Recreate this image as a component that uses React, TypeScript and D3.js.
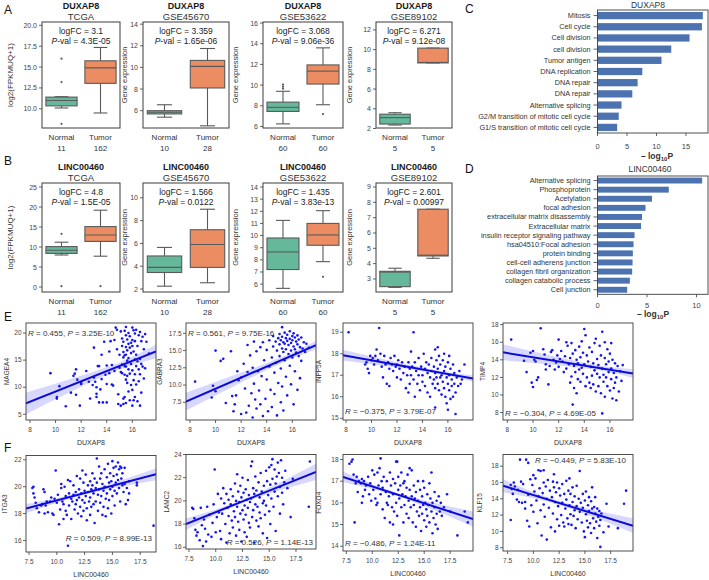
import React from "react";
import * as d3 from "d3";

const FONT = "'Liberation Sans', Arial, Helvetica, sans-serif";

// ---------------- Box plots (A, B) ----------------
const boxGroups = ["Normal", "Tumor"];
const boxGenes = ["DUXAP8", "LINC00460"];
const boxDatasets = ["TCGA", "GSE45670", "GSE53622", "GSE89102"];
const boxYLabels = ["log2(FPKMUQ+1)", "Gene expression", "Gene expression", "Gene expression"];
const sampleCounts = [[11, 162], [10, 28], [60, 60], [5, 5]];
const logFCA = ["3.1", "3.359", "3.068", "6.271"];
const pvalA = ["4.3E-05", "1.65e-06", "9.06e-36", "9.12e-08"];
const logFCB = ["4.8", "1.566", "1.435", "2.601"];
const pvalB = ["1.5E-05", "0.0122", "3.83e-13", "0.00997"];
// [low whisker, Q1, median, Q3, high whisker] for Normal, Tumor
const statsA = [
  [[10.1, 10.35, 11.0, 11.4, 11.45], [9.5, 13.05, 14.9, 15.75, 17.35]],
  [[5.4, 5.7, 5.85, 6.0, 6.55], [4.6, 8.1, 10.1, 10.65, 11.75]],
  [[6.25, 7.45, 7.85, 8.35, 9.4], [8.1, 10.1, 11.35, 11.95, 13.6]],
  [[2.35, 2.45, 3.1, 3.45, 3.6], [8.65, 8.65, 8.7, 10.15, 10.15]],
];
const outliersA = [
  [[16.0, 13.2, 8.2], []],
  [[], []],
  [[9.65, 9.85, 10.05], [7.2]],
  [[], []],
];
const statsB = [
  [[8.0, 8.4, 9.2, 10.1, 11.2], [7.7, 11.4, 13.0, 15.1, 19.2]],
  [[2.25, 3.45, 3.9, 4.9, 5.65], [2.55, 3.9, 5.9, 7.2, 9.0]],
  [[5.65, 7.2, 8.65, 9.8, 11.25], [7.85, 9.2, 10.05, 11.0, 12.05]],
  [[2.45, 2.5, 3.45, 3.5, 3.7], [4.35, 4.5, 4.55, 7.55, 7.55]],
];
const outliersB = [
  [[13.3, 0.2], [0.2]],
  [[], []],
  [[], [6.6]],
  [[], []],
];
const yDomainA = [[7.7, 20.4], [4.4, 14.2], [5.85, 16.1], [2.05, 12.8]];
const yTicksA = [[10, 12.5, 15, 17.5, 20], [6, 8, 10, 12, 14], [6, 8, 10, 12, 14, 16], [2, 4, 6, 8, 10, 12]];
const yDomainB = [[-1.25, 26], [1.74, 11.3], [5.35, 14.33], [2.15, 9.26]];
const yTicksB = [[0, 5, 10, 15, 20, 25], [2, 4, 6, 8, 10], [6, 7, 8, 9, 10, 11, 12, 13, 14], [3, 4, 5, 6, 7, 8, 9]];

// ---------------- Bar charts (C, D) ----------------
const termsC = ["Mitosis", "Cell cycle", "Cell division", "cell division", "Tumor antigen", "DNA replication", "DNA repair", "DNA repair", "Alternative splicing", "G2/M transition of mitotic cell cycle", "G1/S transition of mitotic cell cycle"];
const valuesC = [17.85, 17.7, 15.6, 12.5, 10.85, 7.6, 6.8, 5.9, 4.07, 3.6, 3.33];
const ticksC = [0, 5, 10, 15];
const termsD = ["Alternative splicing", "Phosphoprotein", "Acetylation", "focal adhesion", "extracellular matrix disassembly", "Extracellular matrix", "insulin receptor signaling pathway", "hsa04510:Focal adhesion", "protein binding", "cell-cell adherens junction", "collagen fibril organization", "collagen catabolic process", "Cell junction"];
const valuesD = [10.57, 7.2, 5.5, 4.85, 4.5, 4.4, 3.74, 3.64, 3.57, 3.54, 3.5, 3.27, 3.0];
const ticksD = [0, 5, 10];

// ---------------- Scatter plots (E, F) ----------------
const genesE = ["MAGEA4", "GABRA3", "INPP5A", "TIMP4"];
const genesF = ["ITGA3", "LAMC2", "FOXO4", "KLF15"];
const rE = ["0.455", "0.561", "\u22120.375", "\u22120.304"];
const pE = ["3.25E-10", "9.75E-16", "3.79E-07", "4.69E-05"];
const rF = ["0.509", "0.526", "\u22120.486", "\u22120.449"];
const pF = ["8.99E-13", "1.14E-13", "1.24E-11", "5.83E-10"];

const ptsE1 = [[9.6,12.6],[10.1,8.2],[10.1,7.9],[10.3,10.2],[10.8,6.5],[11.2,9.0],[11.4,12.1],[11.5,12.5],[11.6,13.3],[11.7,11.4],[11.6,8.6],[11.9,6.6],[12.0,10.8],[12.0,10.6],[12.4,13.0],[12.6,11.0],[12.7,7.9],[12.9,10.4],[13.0,17.3],[13.0,11.8],[13.1,11.0],[13.2,10.0],[13.2,8.8],[13.2,8.2],[13.3,13.9],[13.4,13.9],[13.4,7.2],[13.5,9.6],[13.6,11.5],[13.7,7.2],[13.8,18.4],[13.9,12.3],[14.0,10.6],[14.0,7.2],[14.2,16.6],[14.3,18.5],[14.4,10.5],[14.5,10.3],[14.6,18.7],[14.6,13.0],[14.0,14.0],[14.2,12.6],[14.4,14.1],[13.6,16.0],[14.7,21.0],[14.8,20.6],[14.8,17.0],[14.9,8.7],[14.9,6.9],[15.0,16.0],[15.0,13.6],[15.1,20.3],[15.1,12.8],[15.1,6.6],[15.2,19.0],[15.2,17.6],[15.2,14.2],[15.2,12.6],[15.3,18.4],[15.3,16.5],[15.3,15.5],[15.3,7.9],[15.3,6.9],[15.4,20.4],[15.4,15.9],[15.4,13.9],[15.4,12.3],[15.4,8.2],[15.5,21.1],[15.5,19.6],[15.5,17.4],[15.5,16.0],[15.5,13.8],[15.5,11.4],[15.5,7.1],[15.6,18.8],[15.6,16.8],[15.6,14.9],[15.6,12.1],[15.6,10.8],[15.7,20.0],[15.7,18.0],[15.7,15.4],[15.7,13.3],[15.7,9.2],[15.8,19.4],[15.8,17.3],[15.8,12.5],[15.8,7.6],[15.9,18.2],[15.9,16.3],[15.9,14.3],[15.9,10.4],[16.0,21.0],[16.0,18.7],[16.0,17.6],[16.0,13.1],[16.0,9.5],[16.0,6.6],[16.1,20.5],[16.1,16.6],[16.1,11.3],[16.1,7.6],[16.2,19.9],[16.2,18.5],[16.2,15.1],[16.2,12.4],[16.2,8.2],[16.3,20.6],[16.3,16.0],[16.3,13.9],[16.3,10.5],[16.4,17.6],[16.4,14.8],[16.4,7.4],[16.5,19.6],[16.5,13.3],[16.5,11.1],[16.6,20.2],[16.6,15.2],[16.6,12.4],[16.6,6.6],[16.7,18.5],[16.7,14.3],[16.7,9.0],[16.8,19.3],[16.8,13.8],[16.9,17.0],[16.9,11.6],[17.0,19.8],[17.0,13.5],[17.1,18.4],[17.3,16.2]];
const ptsE2 = [[8.4,10.5],[9.7,8.2],[9.8,9.9],[10.0,15.0],[10.0,9.1],[10.4,13.5],[10.6,13.8],[10.8,7.4],[11.2,14.9],[11.3,8.4],[11.4,6.2],[11.5,7.2],[11.6,8.5],[11.7,12.0],[11.8,10.7],[12.0,11.1],[12.0,5.8],[12.2,13.1],[12.3,9.5],[12.4,6.0],[12.5,15.8],[12.5,11.9],[12.6,7.0],[12.7,14.3],[12.8,8.8],[12.9,12.5],[12.9,5.3],[13.0,16.3],[13.0,10.2],[13.1,7.9],[13.2,14.9],[13.2,6.6],[13.3,12.0],[13.4,9.2],[13.5,15.5],[13.5,7.2],[13.6,11.3],[13.7,16.2],[13.7,5.5],[13.8,13.6],[13.9,8.0],[14.0,15.1],[14.0,10.8],[14.1,6.2],[14.2,16.5],[14.2,12.7],[14.3,9.3],[14.4,14.0],[14.4,6.8],[14.5,17.1],[14.5,15.6],[14.6,11.8],[14.6,8.7],[14.7,16.3],[14.7,13.2],[14.8,15.0],[14.8,5.6],[14.9,16.8],[14.9,10.3],[15.0,17.4],[15.0,15.9],[15.0,14.2],[15.1,16.5],[15.1,12.4],[15.1,7.5],[15.2,17.0],[15.2,15.3],[15.2,9.8],[15.2,18.4],[15.3,16.2],[15.3,14.8],[15.3,6.3],[15.4,17.6],[15.4,16.0],[15.4,13.6],[15.5,16.8],[15.5,15.2],[15.5,11.2],[15.6,17.3],[15.6,16.4],[15.6,8.5],[15.7,15.8],[15.7,14.5],[15.8,17.8],[15.8,16.7],[15.8,12.8],[15.9,16.1],[15.9,15.0],[15.9,10.1],[16.0,17.1],[16.0,16.5],[16.0,14.0],[16.1,17.5],[16.1,15.6],[16.1,7.2],[16.2,16.9],[16.2,15.2],[16.2,12.0],[16.3,16.3],[16.3,14.7],[16.4,17.2],[16.4,15.9],[16.4,9.3],[16.5,16.6],[16.5,14.2],[16.6,15.5],[16.6,11.0],[16.7,16.9],[16.7,13.5],[16.8,15.3],[16.9,16.2],[17.0,14.8],[17.1,16.0],[17.3,15.4]];
const ptsE3 = [[8.2,19.0],[9.5,17.5],[9.6,17.6],[9.7,17.3],[9.8,17.1],[9.9,17.9],[10.0,17.7],[10.1,17.8],[10.2,17.5],[10.3,17.9],[10.4,18.2],[10.5,17.7],[10.6,19.2],[10.7,18.0],[10.8,17.4],[10.9,16.9],[11.0,17.9],[11.1,17.5],[11.2,16.6],[11.3,17.6],[11.4,17.3],[11.4,16.5],[11.5,17.8],[11.6,17.5],[11.7,17.2],[11.8,17.9],[11.9,17.4],[12.0,17.5],[12.0,16.9],[12.1,17.7],[12.2,17.3],[12.3,16.8],[12.4,17.6],[12.5,17.1],[12.6,17.4],[12.7,16.4],[12.8,17.0],[12.9,17.6],[12.9,16.2],[13.0,17.3],[13.0,16.6],[13.1,18.1],[13.1,17.0],[13.2,17.4],[13.3,19.0],[13.3,16.8],[13.4,17.6],[13.4,16.0],[13.5,17.2],[13.6,16.6],[13.7,17.8],[13.7,17.0],[13.8,16.3],[13.9,17.4],[14.0,17.0],[14.0,16.7],[14.1,18.0],[14.2,17.3],[14.2,16.5],[14.3,17.6],[14.4,17.1],[14.4,16.2],[14.5,17.5],[14.6,16.9],[14.6,16.0],[14.7,17.8],[14.7,17.2],[14.8,16.6],[14.9,17.4],[14.9,16.8],[15.0,18.2],[15.0,17.1],[15.0,16.4],[15.0,15.5],[15.1,17.7],[15.1,16.9],[15.2,18.3],[15.2,17.3],[15.2,16.6],[15.3,17.9],[15.3,16.3],[15.4,17.5],[15.4,16.9],[15.5,17.0],[15.5,16.1],[15.6,17.7],[15.6,16.7],[15.7,18.0],[15.7,17.2],[15.7,16.4],[15.8,17.4],[15.8,16.0],[15.9,16.9],[15.9,15.7],[16.0,17.6],[16.0,16.6],[16.0,15.4],[16.1,17.9],[16.1,17.0],[16.1,16.3],[16.2,17.3],[16.2,15.9],[16.3,16.8],[16.3,16.5],[16.4,17.5],[16.4,16.0],[16.5,17.1],[16.5,16.6],[16.6,16.2],[16.6,15.2],[16.7,16.9],[16.8,16.5],[16.9,17.2],[17.0,16.6],[17.1,16.8],[17.3,17.5]];
const ptsE4 = [[8.3,16.3],[9.3,13.9],[9.5,12.6],[9.8,14.8],[9.9,11.4],[10.0,15.0],[10.0,10.9],[10.1,14.0],[10.2,13.8],[10.3,11.7],[10.4,12.0],[10.6,17.6],[10.8,15.2],[10.9,14.6],[11.0,13.5],[11.0,12.9],[11.2,11.2],[11.3,13.3],[11.4,14.9],[11.5,15.1],[11.6,14.0],[11.7,12.9],[11.8,13.7],[11.9,14.5],[12.0,16.3],[12.0,13.2],[12.1,14.1],[12.2,15.0],[12.3,13.8],[12.4,12.6],[12.5,14.4],[12.6,16.0],[12.6,13.0],[12.7,15.6],[12.8,13.5],[12.9,14.2],[12.9,11.4],[13.0,15.9],[13.0,12.1],[13.1,8.9],[13.1,14.7],[13.2,13.3],[13.2,10.8],[13.3,15.1],[13.3,12.6],[13.4,14.0],[13.4,10.2],[13.5,13.6],[13.5,11.8],[13.6,15.5],[13.6,12.9],[13.7,14.3],[13.7,11.5],[13.8,16.1],[13.8,13.1],[13.9,14.8],[13.9,12.4],[14.0,17.5],[14.0,13.5],[14.1,16.8],[14.1,11.0],[14.2,14.5],[14.2,12.0],[14.3,13.8],[14.4,15.4],[14.4,11.4],[14.5,13.2],[14.5,10.8],[14.6,14.9],[14.6,12.2],[14.7,13.6],[14.7,11.2],[14.8,15.9],[14.8,12.8],[14.9,10.4],[14.9,16.4],[15.0,14.1],[15.0,12.4],[15.1,13.4],[15.1,11.0],[15.2,15.6],[15.2,12.0],[15.3,14.5],[15.3,10.2],[15.4,17.2],[15.4,13.0],[15.4,7.9],[15.5,12.3],[15.5,11.5],[15.6,14.2],[15.6,9.8],[15.6,16.0],[15.7,13.5],[15.7,12.0],[15.8,15.2],[15.8,11.0],[15.9,13.8],[15.9,12.6],[16.0,14.7],[16.0,10.5],[16.1,13.0],[16.1,11.8],[16.1,15.9],[16.2,14.0],[16.2,9.6],[16.3,12.5],[16.3,10.8],[16.4,13.6],[16.4,11.4],[16.5,12.0],[16.5,9.4],[16.6,13.3],[16.7,10.4],[16.8,12.7],[16.9,11.6],[17.0,13.4]];
const ptsF1 = [[7.8,19.9],[7.9,20.0],[7.9,19.5],[8.0,19.2],[8.1,18.8],[8.2,18.4],[8.4,18.1],[8.6,18.6],[8.7,18.7],[8.8,19.8],[8.9,18.0],[8.9,19.6],[9.0,18.6],[9.1,18.9],[9.2,18.1],[9.4,18.9],[9.5,19.2],[9.6,18.0],[9.7,17.9],[9.8,19.1],[9.9,21.2],[10.0,18.8],[10.1,19.4],[10.2,17.2],[10.3,18.3],[10.4,19.9],[10.4,20.2],[10.5,18.9],[10.6,18.7],[10.6,17.6],[10.7,20.0],[10.8,19.3],[10.8,18.2],[10.9,17.9],[11.0,15.6],[11.0,20.5],[11.1,19.5],[11.1,18.6],[11.2,20.4],[11.3,19.1],[11.3,17.6],[11.4,18.9],[11.5,20.1],[11.5,19.4],[11.6,18.3],[11.7,19.6],[11.7,18.7],[11.8,20.8],[11.8,19.0],[11.9,18.0],[12.0,19.8],[12.0,19.2],[12.1,20.6],[12.1,18.5],[12.2,19.5],[12.2,17.8],[12.3,21.2],[12.3,19.0],[12.4,20.3],[12.4,18.2],[12.5,19.7],[12.5,18.8],[12.6,20.9],[12.6,19.3],[12.7,18.4],[12.7,17.5],[12.8,20.1],[12.8,19.6],[12.9,18.9],[13.0,20.4],[13.0,19.2],[13.0,17.9],[13.1,19.8],[13.1,18.5],[13.2,21.0],[13.2,20.1],[13.3,19.5],[13.3,18.7],[13.4,20.6],[13.4,17.3],[13.5,19.9],[13.5,18.9],[13.6,22.1],[13.6,20.3],[13.7,19.4],[13.7,18.2],[13.8,21.5],[13.8,19.8],[13.9,20.6],[13.9,18.8],[14.0,21.0],[14.0,19.3],[14.1,20.2],[14.1,17.9],[14.2,19.7],[14.2,18.5],[14.3,21.3],[14.3,20.0],[14.4,19.1],[14.4,17.8],[14.5,20.7],[14.5,19.5],[14.6,21.7],[14.6,18.4],[14.7,20.3],[14.7,19.0],[14.8,21.0],[14.8,19.8],[14.9,20.4],[14.9,18.0],[15.0,21.9],[15.0,20.0],[15.0,19.3],[15.1,21.4],[15.1,20.8],[15.2,19.7],[15.2,18.6],[15.3,21.5],[15.3,20.3],[15.4,20.9],[15.4,19.5],[15.5,21.8],[15.5,20.5],[15.6,21.3],[15.6,19.9],[15.7,21.5],[15.7,18.9],[15.8,20.6],[15.8,21.4],[15.9,20.1],[15.9,21.0],[16.0,19.6],[16.1,21.4],[16.1,20.2],[16.2,18.7],[16.3,19.9],[16.4,19.0],[16.5,20.4],[16.5,19.5],[17.2,20.3],[17.2,20.1],[18.7,17.1]];
const ptsF2 = [[7.8,19.4],[7.9,19.3],[8.0,18.5],[8.1,17.5],[8.2,17.0],[8.3,17.3],[8.5,16.6],[8.6,19.4],[8.7,17.9],[8.8,16.1],[8.9,18.4],[9.0,17.6],[9.1,16.5],[9.2,19.5],[9.3,17.1],[9.4,18.8],[9.6,16.9],[9.7,18.1],[9.8,19.7],[9.9,22.7],[10.0,17.3],[10.1,18.6],[10.2,20.6],[10.3,19.0],[10.4,17.4],[10.5,16.7],[10.5,20.2],[10.6,18.9],[10.7,21.1],[10.8,19.8],[10.9,18.0],[11.0,20.6],[11.0,16.4],[11.1,19.4],[11.2,20.1],[11.2,18.7],[11.3,17.2],[11.4,21.0],[11.4,19.7],[11.5,18.3],[11.6,20.4],[11.6,17.7],[11.7,19.1],[11.8,21.5],[11.8,18.6],[11.9,20.0],[11.9,17.0],[12.0,19.5],[12.0,22.3],[12.1,18.2],[12.1,20.8],[12.2,19.9],[12.2,17.5],[12.3,21.3],[12.3,18.9],[12.4,20.3],[12.4,16.5],[12.5,19.2],[12.5,22.0],[12.6,18.4],[12.6,20.7],[12.7,19.6],[12.7,17.3],[12.8,21.0],[12.8,18.8],[12.9,20.1],[12.9,16.9],[13.0,19.4],[13.0,21.8],[13.1,18.1],[13.1,20.5],[13.2,19.9],[13.2,17.7],[13.3,23.0],[13.3,20.2],[13.4,18.6],[13.4,23.4],[13.5,21.1],[13.5,19.2],[13.6,20.6],[13.6,16.4],[13.7,19.7],[13.7,22.1],[13.8,18.3],[13.8,20.9],[13.9,19.5],[14.0,21.6],[14.0,17.8],[14.1,20.3],[14.1,19.0],[14.2,22.4],[14.2,18.5],[14.3,20.8],[14.4,19.8],[14.4,17.2],[14.5,21.3],[14.5,20.0],[14.6,18.8],[14.7,22.6],[14.7,19.6],[14.8,21.7],[14.8,16.8],[14.9,20.5],[15.0,22.9],[15.0,19.1],[15.1,21.4],[15.1,18.0],[15.2,23.1],[15.2,20.2],[15.3,23.6],[15.3,21.9],[15.4,19.5],[15.5,22.7],[15.5,20.8],[15.6,21.5],[15.6,17.4],[15.7,22.1],[15.8,23.3],[15.8,20.4],[15.9,22.4],[16.0,18.9],[16.0,21.2],[16.1,23.5],[16.2,22.0],[16.2,20.7],[16.3,19.7],[16.4,21.6],[16.5,22.6],[16.7,21.1],[17.0,18.6],[17.2,21.9],[18.7,19.5],[18.8,23.4]];
const ptsF3 = [[7.8,17.8],[8.0,17.9],[8.1,18.0],[8.2,17.3],[8.3,15.1],[8.4,16.9],[8.5,17.2],[8.6,16.5],[8.7,17.0],[8.9,16.9],[9.0,17.1],[9.0,16.0],[9.1,16.3],[9.2,17.0],[9.3,16.6],[9.4,16.8],[9.6,17.2],[9.7,16.4],[9.8,16.9],[9.9,16.1],[10.0,17.5],[10.1,16.6],[10.2,17.3],[10.3,16.2],[10.4,15.9],[10.5,17.4],[10.5,16.0],[10.6,16.8],[10.7,17.6],[10.8,18.05],[10.8,16.4],[10.9,17.0],[11.0,15.7],[11.0,16.7],[11.1,17.2],[11.2,15.3],[11.3,16.5],[11.4,17.0],[11.4,16.0],[11.5,15.9],[11.6,16.3],[11.7,17.4],[11.7,15.1],[11.8,16.8],[11.9,15.8],[12.0,16.4],[12.0,17.1],[12.0,15.0],[12.1,15.6],[12.2,16.9],[12.3,17.9],[12.3,16.0],[12.4,17.9],[12.4,15.4],[12.5,16.6],[12.5,17.2],[12.6,14.5],[12.6,16.2],[12.7,16.8],[12.8,15.8],[12.8,17.4],[12.9,16.4],[13.0,15.1],[13.0,16.9],[13.1,15.9],[13.1,17.0],[13.2,16.3],[13.3,15.5],[13.3,16.7],[13.4,17.3],[13.5,16.1],[13.5,15.3],[13.6,16.6],[13.6,17.6],[13.7,15.8],[13.8,17.5],[13.8,16.3],[13.9,15.1],[14.0,16.8],[14.0,15.9],[14.1,16.2],[14.2,14.9],[14.2,16.5],[14.3,15.6],[14.4,17.0],[14.4,16.1],[14.5,15.4],[14.6,16.6],[14.6,15.8],[14.7,14.7],[14.8,16.3],[14.8,15.5],[14.9,15.9],[14.9,17.0],[15.0,16.7],[15.0,15.2],[15.1,16.0],[15.2,15.7],[15.2,14.9],[15.3,16.4],[15.3,15.4],[15.4,15.9],[15.5,16.9],[15.5,15.1],[15.6,16.2],[15.7,15.6],[15.7,17.4],[15.8,14.6],[15.8,16.0],[15.9,15.3],[16.0,16.5],[16.0,15.8],[16.1,15.0],[16.2,16.1],[16.2,15.5],[16.3,14.8],[16.4,16.3],[16.5,15.6],[16.6,16.0],[16.7,15.4],[16.9,15.8],[17.2,16.4],[17.5,15.6],[18.2,14.5],[18.9,15.6],[19.2,15.1]];
const ptsF4 = [[7.8,15.7],[7.9,15.2],[7.8,11.4],[8.0,14.6],[8.1,16.0],[8.2,15.5],[8.4,13.9],[8.5,15.1],[8.6,13.6],[8.7,18.8],[8.8,16.1],[8.9,13.5],[9.0,15.8],[9.2,12.8],[9.2,13.6],[9.3,18.8],[9.4,11.3],[9.5,18.4],[9.5,14.5],[9.6,10.6],[9.7,16.4],[9.8,13.2],[9.9,15.7],[10.0,12.4],[10.0,16.9],[10.1,14.9],[10.2,16.5],[10.3,13.8],[10.4,11.0],[10.5,17.5],[10.5,14.3],[10.6,15.3],[10.7,17.4],[10.7,12.6],[10.8,9.5],[10.9,14.7],[11.0,16.0],[11.0,13.3],[11.0,17.5],[11.1,11.8],[11.2,15.5],[11.3,9.0],[11.3,14.0],[11.4,16.3],[11.5,12.9],[11.6,15.0],[11.7,10.5],[11.8,14.2],[11.9,16.1],[11.9,12.2],[12.0,15.4],[12.0,17.0],[12.1,13.6],[12.1,10.0],[12.2,14.8],[12.3,11.5],[12.3,16.0],[12.4,13.1],[12.5,15.3],[12.5,10.7],[12.6,14.4],[12.7,12.0],[12.8,15.8],[12.8,13.5],[12.9,11.1],[13.0,14.6],[13.0,10.6],[13.1,12.8],[13.2,16.2],[13.2,13.9],[13.3,11.6],[13.4,15.0],[13.4,10.9],[13.5,13.2],[13.5,16.5],[13.6,14.6],[13.6,12.1],[13.7,10.8],[13.8,15.4],[13.8,13.6],[13.9,11.9],[14.0,14.3],[14.0,12.6],[14.1,10.4],[14.2,15.6],[14.2,13.1],[14.3,11.5],[14.4,14.0],[14.5,12.4],[14.5,17.4],[14.6,13.5],[14.7,11.1],[14.8,14.6],[14.8,12.9],[14.9,10.0],[15.0,13.8],[15.0,9.3],[15.1,12.1],[15.1,14.9],[15.2,11.3],[15.3,13.2],[15.3,10.5],[15.4,14.2],[15.4,12.5],[15.5,11.0],[15.6,13.7],[15.6,9.8],[15.7,12.8],[15.7,15.4],[15.8,11.6],[15.9,13.0],[15.9,10.4],[16.0,12.2],[16.0,14.2],[16.1,11.2],[16.2,12.8],[16.2,9.2],[16.3,11.8],[16.4,12.5],[16.4,10.7],[16.5,8.1],[16.5,11.4],[16.6,12.2],[16.8,9.9],[17.1,13.4],[17.3,10.6],[18.2,10.4],[18.8,13.4],[19.0,15.0]];

// fitted regression line: [x0, y0, x1, y1]
const fitE = [[7.7, 7.04, 17.85, 16.6], [7.7, 7.6, 17.85, 15.8], [7.8, 17.93, 17.97, 16.85], [7.66, 14.85, 17.8, 12.44]];
const fitF = [[7.23, 18.37, 18.92, 20.93], [7.22, 18.0, 19.37, 22.5], [7.18, 17.2, 19.7, 15.25], [7.05, 15.6, 19.67, 10.7]];
// confidence band half-widths: [left edge, centre, right edge]
const bandE = [[2.0, 0.7, 1.3], [1.3, 0.5, 0.6], [0.25, 0.08, 0.15], [0.9, 0.3, 0.5]];
const bandF = [[0.35, 0.12, 0.45], [0.5, 0.15, 0.7], [0.25, 0.08, 0.35], [0.8, 0.25, 0.9]];
const xDomE = [[7.69, 17.85], [7.69, 17.85], [7.76, 17.97], [7.66, 17.8]];
const yDomE = [[3.95, 21.85], [4.93, 19.0], [14.92, 19.43], [7.15, 18.19]];
const yTicksE = [[5, 10, 15, 20], [7.5, 10, 12.5, 15, 17.5], [15, 16, 17, 18, 19], [8, 10, 12, 14, 16, 18]];
const xTicksE = [8, 10, 12, 14, 16];
const xDomF = [[7.23, 18.92], [7.22, 19.37], [7.18, 19.7], [7.05, 19.67]];
const yDomF = [[15.14, 22.32], [15.85, 24.0], [13.78, 18.23], [7.6, 19.43]];
const yTicksF = [[16, 18, 20, 22], [16, 18, 20, 22, 24], [14, 15, 16, 17, 18], [8, 10, 12, 14, 16, 18]];
const xTicksF = [7.5, 10, 12.5, 15, 17.5];

// ---------------- layout ----------------
const boxCols = [[42, 120], [143, 229], [263, 343], [376, 452]];
const boxRows = [[22, 128], [183, 292]];
const boxYLabelX = [13, 127, 238, 352];
const scatCols = [[26, 156], [186, 316], [343, 473], [503, 633]];
const rowE = [323, 420];
const rowsF = [[455.5, 552], [454.5, 549], [454.5, 551], [454.5, 551]];
const yLabXE = [8.5, 162, 321, 485];
const yLabXF = [7, 169, 321, 482];

function fmtNum(v: number, dec: number) {
  return dec > 0 ? d3.format(`.${dec}f`)(v) : d3.format("d")(v);
}

function BoxPanel(props: any) {
  const { x0, x1, y0, y1, gene, dataset, ylabel, ylabelX, domain, ticks, dec, stats, outliers, counts, logfc, pval } = props;
  const y = d3.scaleLinear().domain(domain).range([y1, y0]);
  const x = d3.scaleBand<string>().domain(boxGroups).range([x0, x1]);
  const bw = x.bandwidth() * 0.8;
  const cw = bw * 0.22;
  const cx = (x0 + x1) / 2;
  const fills = ["#66b89b", "#ec8c63"];
  const line = "#5a5a5a";
  return (
    <g>
      <text x={cx} y={y0 - 13} textAnchor="middle" fontWeight="bold" fontSize={9} fill="#1a1a1a">{gene}</text>
      <text x={cx} y={y0 - 2} textAnchor="middle" fontSize={9.5} fill="#333">{dataset}</text>
      {boxGroups.map((g, i) => {
        const [lo, q1, md, q3, hi] = stats[i];
        const c = (x(g) as number) + x.bandwidth() / 2;
        return (
          <g key={g}>
            <line x1={c} x2={c} y1={y(q3)} y2={y(hi)} stroke={line} strokeWidth={1.1} />
            <line x1={c} x2={c} y1={y(q1)} y2={y(lo)} stroke={line} strokeWidth={1.1} />
            <line x1={c - cw} x2={c + cw} y1={y(hi)} y2={y(hi)} stroke={line} strokeWidth={1.1} />
            <line x1={c - cw} x2={c + cw} y1={y(lo)} y2={y(lo)} stroke={line} strokeWidth={1.1} />
            <rect x={c - bw / 2} y={y(q3)} width={bw} height={Math.max(0.5, y(q1) - y(q3))} fill={fills[i]} stroke={line} strokeWidth={1.1} />
            <line x1={c - bw / 2} x2={c + bw / 2} y1={y(md)} y2={y(md)} stroke={line} strokeWidth={1.1} />
            {outliers[i].map((v: number, k: number) => (
              <circle key={k} cx={c} cy={y(v)} r={1.1} fill={line} />
            ))}
            <text x={c} y={y1 + 11.5} textAnchor="middle" fontSize={8} fill="#333">{g}</text>
            <text x={c} y={y1 + 23} textAnchor="middle" fontSize={8} fill="#333">{counts[i]}</text>
          </g>
        );
      })}
      <rect x={x0} y={y0} width={x1 - x0} height={y1 - y0} fill="none" stroke="#3c3c3c" strokeWidth={1} />
      {ticks.map((t: number) => (
        <g key={t}>
          <line x1={x0 - 3} x2={x0} y1={y(t)} y2={y(t)} stroke="#3c3c3c" strokeWidth={0.8} />
          <text x={x0 - 5} y={y(t) + 2.5} textAnchor="end" fontSize={7} fill="#444">{fmtNum(t, dec)}</text>
        </g>
      ))}
      <text transform={`translate(${ylabelX},${(y0 + y1) / 2}) rotate(-90)`} textAnchor="middle" fontSize={ylabel.startsWith("log") ? 8 : 7.5} fill="#333">{ylabel}</text>
      <text x={cx} y={y0 + 12} textAnchor="middle" fontSize={8.5} fill="#222">logFC = {logfc}</text>
      <text x={cx} y={y0 + 22} textAnchor="middle" fontSize={8.5} fill="#222"><tspan fontStyle="italic">P</tspan>-val = {pval}</text>
    </g>
  );
}

function BarPanel(props: any) {
  const { x0, x1, y0, y1, terms, values, ticks, pxPerUnit, title, titleX, titleY, tickY, labelX, labelY } = props;
  const x = d3.scaleLinear().domain([0, (x1 - x0) / pxPerUnit]).range([x0, x1]);
  const y = d3.scaleBand<number>().domain(terms.map((_: string, i: number) => i)).range([y0, y1]).paddingInner(0.35).paddingOuter(0.175);
  return (
    <g>
      <text x={titleX} y={titleY} textAnchor="middle" fontSize={8.5} fill="#333">{title}</text>
      {values.map((v: number, i: number) => (
        <rect key={i} x={x(0)} y={y(i) as number} width={x(v) - x(0)} height={y.bandwidth()} fill="#4c72b0" />
      ))}
      <rect x={x0} y={y0} width={x1 - x0} height={y1 - y0} fill="none" stroke="#3c3c3c" strokeWidth={0.9} />
      {terms.map((t: string, i: number) => {
        const cy = (y(i) as number) + y.bandwidth() / 2;
        return (
          <g key={i}>
            <line x1={x0 - 4} x2={x0} y1={cy} y2={cy} stroke="#3c3c3c" strokeWidth={0.8} />
            <text x={x0 - 7} y={cy + 2.5} textAnchor="end" fontSize={7.3} fill="#333">{t}</text>
          </g>
        );
      })}
      {ticks.map((t: number) => (
        <g key={t}>
          <line x1={x(t)} x2={x(t)} y1={y1} y2={y1 + 3} stroke="#3c3c3c" strokeWidth={0.8} />
          <text x={x(t)} y={tickY} textAnchor="middle" fontSize={7.5} fill="#444">{t}</text>
        </g>
      ))}
      <text x={labelX} y={labelY} textAnchor="middle" fontSize={8.5} fontWeight={600} fill="#333">{"\u2013 log"}<tspan fontSize={6} dy={2}>10</tspan><tspan dy={-2}>P</tspan></text>
    </g>
  );
}

function ScatterPanel(props: any) {
  const { id, x0, x1, y0, y1, xDomain, yDomain, xTicks, yTicks, xDec, yDec, pts, fit, band, xMean, ylabel, ylabelX, xlabel, r, p, statX, statY, statAnchor } = props;
  const x = d3.scaleLinear().domain(xDomain).range([x0, x1]);
  const y = d3.scaleLinear().domain(yDomain).range([y1, y0]);
  const slope = (fit[3] - fit[1]) / (fit[2] - fit[0]);
  const fy = (v: number) => fit[1] + slope * (v - fit[0]);
  const xs = [xDomain[0], xMean, xDomain[1]];
  const bandPts = xs.map((v, i) => ({ x: v, lo: fy(v) - band[i], hi: fy(v) + band[i] }));
  const area = d3.area<any>().x((d) => x(d.x)).y0((d) => y(d.lo)).y1((d) => y(d.hi)).curve(d3.curveNatural);
  const ln = d3.line<number>().x((v) => x(v)).y((v) => y(fy(v)));
  return (
    <g>
      <defs>
        <clipPath id={id}><rect x={x0} y={y0} width={x1 - x0} height={y1 - y0} /></clipPath>
      </defs>
      <g clipPath={`url(#${id})`}>
        <path d={area(bandPts) as string} fill="#3b3bff" fillOpacity={0.2} />
        {pts.map((d: number[], i: number) => (
          <circle key={i} cx={x(d[0])} cy={y(d[1])} r={1.3} fill="#1515f0" />
        ))}
        <path d={ln([xDomain[0], xDomain[1]]) as string} stroke="#0b0bd6" strokeWidth={2} fill="none" />
      </g>
      <rect x={x0} y={y0} width={x1 - x0} height={y1 - y0} fill="none" stroke="#3c3c3c" strokeWidth={0.9} />
      {yTicks.map((t: number) => (
        <g key={t}>
          <line x1={x0 - 3} x2={x0} y1={y(t)} y2={y(t)} stroke="#3c3c3c" strokeWidth={0.8} />
          <text x={x0 - 4.5} y={y(t) + 2.2} textAnchor="end" fontSize={6.5} fill="#444">{fmtNum(t, yDec)}</text>
        </g>
      ))}
      {xTicks.map((t: number) => (
        <g key={t}>
          <line x1={x(t)} x2={x(t)} y1={y1} y2={y1 + 3} stroke="#3c3c3c" strokeWidth={0.8} />
          <text x={x(t)} y={y1 + 12} textAnchor="middle" fontSize={6.5} fill="#444">{fmtNum(t, xDec)}</text>
        </g>
      ))}
      <text transform={`translate(${ylabelX},${(y0 + y1) / 2}) rotate(-90)`} textAnchor="middle" fontSize={6.5} fill="#333">{ylabel}</text>
      <text x={(x0 + x1) / 2} y={y1 + 25} textAnchor="middle" fontSize={7} fill="#333">{xlabel}</text>
      <text x={statX} y={statY} textAnchor={statAnchor} fontSize={8} fill="#333">
        <tspan fontStyle="italic">R</tspan>{` = ${r}, `}<tspan fontStyle="italic">P</tspan>{` = ${p}`}
      </text>
    </g>
  );
}

const statPosE = [[28, 336, "start"], [188, 336, "start"], [345, 414, "start"], [505, 416, "start"]];
const statPosF = [[152, 541, "end"], [313, 545, "end"], [345, 546, "start"], [626, 463, "end"]];

export default function App() {
  const letters: [string, number, number][] = [["A", 4, 14], ["B", 4, 165], ["C", 465, 13], ["D", 465, 173], ["E", 4, 321], ["F", 4, 452]];
  return (
    <div style={{ position: "absolute", left: 0, top: 0 }}>
      <svg width={709} height={580} style={{ display: "block", fontFamily: FONT }}>
        <rect width={709} height={580} fill="#fff" />
        {letters.map(([t, lx, ly]) => (
          <text key={t} x={lx} y={ly} fontSize={12} fill="#111">{t}</text>
        ))}
        {boxCols.map(([x0, x1], i) => (
          <BoxPanel key={"a" + i} x0={x0} x1={x1} y0={boxRows[0][0]} y1={boxRows[0][1]} gene={boxGenes[0]} dataset={boxDatasets[i]}
            ylabel={boxYLabels[i]} ylabelX={boxYLabelX[i]} domain={yDomainA[i]} ticks={yTicksA[i]} dec={i === 0 ? 1 : 0}
            stats={statsA[i]} outliers={outliersA[i]} counts={sampleCounts[i]} logfc={logFCA[i]} pval={pvalA[i]} />
        ))}
        {boxCols.map(([x0, x1], i) => (
          <BoxPanel key={"b" + i} x0={x0} x1={x1} y0={boxRows[1][0]} y1={boxRows[1][1]} gene={boxGenes[1]} dataset={boxDatasets[i]}
            ylabel={boxYLabels[i]} ylabelX={boxYLabelX[i]} domain={yDomainB[i]} ticks={yTicksB[i]} dec={0}
            stats={statsB[i]} outliers={outliersB[i]} counts={sampleCounts[i]} logfc={logFCB[i]} pval={pvalB[i]} />
        ))}
        <BarPanel x0={597.5} x1={708} y0={10} y1={133} terms={termsC} values={valuesC} ticks={ticksC} pxPerUnit={5.9}
          title="DUXAP8" titleX={648} titleY={7.5} tickY={149} labelX={657} labelY={159} />
        <BarPanel x0={597.5} x1={708} y0={176} y1={294.3} terms={termsD} values={valuesD} ticks={ticksD} pxPerUnit={9.9}
          title="LINC00460" titleX={650} titleY={172} tickY={308} labelX={653} labelY={317} />
        {scatCols.map(([x0, x1], i) => (
          <ScatterPanel key={"e" + i} id={"clipE" + i} x0={x0} x1={x1} y0={rowE[0]} y1={rowE[1]} xDomain={xDomE[i]} yDomain={yDomE[i]}
            xTicks={xTicksE} yTicks={yTicksE[i]} xDec={0} yDec={i === 1 ? 1 : 0} pts={[ptsE1, ptsE2, ptsE3, ptsE4][i]}
            fit={fitE[i]} band={bandE[i]} xMean={14.3} ylabel={genesE[i]} ylabelX={yLabXE[i]} xlabel="DUXAP8"
            r={rE[i]} p={pE[i]} statX={statPosE[i][0]} statY={statPosE[i][1]} statAnchor={statPosE[i][2]} />
        ))}
        {scatCols.map(([x0, x1], i) => (
          <ScatterPanel key={"f" + i} id={"clipF" + i} x0={x0} x1={x1} y0={rowsF[i][0]} y1={rowsF[i][1]} xDomain={xDomF[i]} yDomain={yDomF[i]}
            xTicks={xTicksF} yTicks={yTicksF[i]} xDec={1} yDec={0} pts={[ptsF1, ptsF2, ptsF3, ptsF4][i]}
            fit={fitF[i]} band={bandF[i]} xMean={12.7} ylabel={genesF[i]} ylabelX={yLabXF[i]} xlabel="LINC00460"
            r={rF[i]} p={pF[i]} statX={statPosF[i][0]} statY={statPosF[i][1]} statAnchor={statPosF[i][2]} />
        ))}
      </svg>
    </div>
  );
}
